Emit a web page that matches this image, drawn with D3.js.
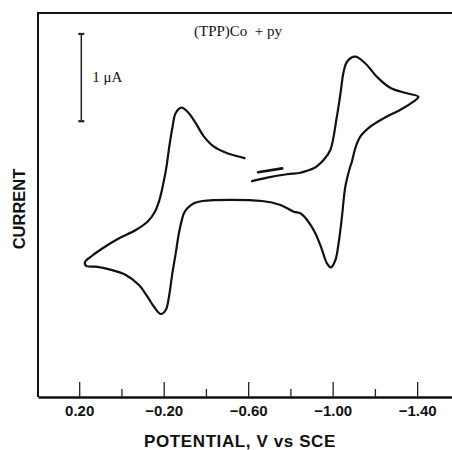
<!DOCTYPE html>
<html>
<head>
<meta charset="utf-8">
<script src="https://cdn.jsdelivr.net/npm/d3@7"></script>
<style>
  body { margin: 0; background: #fff; }
  svg { display: block; }
</style>
</head>
<body>
<div id="chart"></div>
<script>
// cyclic voltammogram, potential in V vs SCE, current in uA (cathodic up)
let scanE = [
  -0.614, -0.690, -0.784, -0.847, -0.879, -0.910, -0.932, -0.957, -0.989,
  -1.019, -1.036, -1.052, -1.068, -1.107, -1.154, -1.209, -1.272, -1.351, -1.406,
  -1.382, -1.319, -1.241, -1.178, -1.131, -1.107, -1.091, -1.083, -1.060, -1.044,
  -1.028, -1.013, -0.992, -0.973, -0.950, -0.918, -0.879, -0.847, -0.816, -0.753,
  -0.666, -0.383, -0.343, -0.312, -0.296, -0.288, -0.272, -0.257, -0.241, -0.225,
  -0.210, -0.186, -0.154, -0.123, -0.083, -0.021, 0.058, 0.121, 0.168, 0.172,
  0.145, 0.089, 0.011, -0.068, -0.123, -0.158, -0.180, -0.196, -0.212, -0.226,
  -0.241, -0.257, -0.285, -0.318, -0.351, -0.389, -0.438, -0.501, -0.587
];
let scanI = [
  -0.029, 0.013, 0.052, 0.070, 0.093, 0.120, 0.158, 0.216, 0.330,
  0.700, 0.960, 1.227, 1.342, 1.399, 1.324, 1.170, 1.044, 0.980, 0.941,
  0.884, 0.789, 0.693, 0.597, 0.483, 0.350, 0.196, 0.139, -0.090, -0.434,
  -0.739, -0.930, -1.014, -0.968, -0.816, -0.624, -0.472, -0.395, -0.377, -0.300,
  -0.254, -0.254, -0.281, -0.338, -0.395, -0.453, -0.624, -0.854, -1.083, -1.351,
  -1.503, -1.549, -1.466, -1.351, -1.217, -1.102, -1.037, -1.007, -0.996, -0.950,
  -0.893, -0.796, -0.682, -0.587, -0.492, -0.380, -0.240, -0.080, 0.120, 0.360,
  0.582, 0.754, 0.815, 0.754, 0.640, 0.490, 0.368, 0.292, 0.235
];
// short initial trace near -0.7 V
let startE = [-0.647, -0.761];
let startI = [0.075, 0.120];

let majorTicks = [0.2, -0.2, -0.6, -1.0, -1.4];
let minorTicks = [0.0, -0.4, -0.8, -1.2];
let scaleBar = { e: 0.19, top: 1.66, size: 1 }; // 1 uA bar

let width = 452;
let height = 450;
let margin = { top: 13, left: 38, bottom: 53 };

let x = d3.scaleLinear().domain([0.395, -1.565]).range([margin.left, width]);
let y = d3.scaleLinear().domain([-2.5, 1.9]).range([height - margin.bottom, margin.top]);

let svg = d3
  .select("#chart")
  .append("svg")
  .attr("width", width)
  .attr("height", height);

// frame: top and left lines
svg.append("line")
  .attr("x1", x.range()[0]).attr("x2", width)
  .attr("y1", y(1.9)).attr("y2", y(1.9))
  .attr("stroke", "#111").attr("stroke-width", 2.2);
svg.append("line")
  .attr("x1", x.range()[0]).attr("x2", x.range()[0])
  .attr("y1", y(1.9) - 1).attr("y2", y(-2.5))
  .attr("stroke", "#111").attr("stroke-width", 2);

// x axis with upward ticks
let fmt = d3.format(".2f");
let xAxis = svg.append("g")
  .attr("transform", "translate(0," + y(-2.5) + ")")
  .call(d3.axisBottom(x).tickValues(majorTicks).tickSize(-15).tickSizeOuter(0).tickPadding(8).tickFormat(fmt));
xAxis.select(".domain").attr("stroke", "#111").attr("stroke-width", 2.4);
xAxis.selectAll(".tick line").attr("stroke", "#222").attr("stroke-width", 1.3);
xAxis.selectAll("text")
  .attr("fill", "#111")
  .style("font-family", "'Liberation Sans', Arial, sans-serif")
  .style("font-weight", "bold")
  .style("font-size", "15px");

svg.append("g")
  .attr("transform", "translate(0," + y(-2.5) + ")")
  .call(d3.axisBottom(x).tickValues(minorTicks).tickSize(-8).tickSizeOuter(0).tickFormat(""))
  .call(g => g.select(".domain").remove())
  .selectAll(".tick line").attr("stroke", "#222").attr("stroke-width", 1.3);

// axis titles
svg.append("text")
  .attr("x", 240).attr("y", 447)
  .attr("text-anchor", "middle")
  .style("font-family", "'Liberation Sans', Arial, sans-serif")
  .style("font-weight", "bold")
  .style("font-size", "17px")
  .style("letter-spacing", "0.6px")
  .attr("fill", "#111")
  .text("POTENTIAL, V vs SCE");

svg.append("text")
  .attr("transform", "translate(25,209) rotate(-90)")
  .attr("text-anchor", "middle")
  .style("font-family", "'Liberation Sans', Arial, sans-serif")
  .style("font-weight", "bold")
  .style("font-size", "16.5px")
  .attr("fill", "#111")
  .text("CURRENT");

// title
svg.append("text")
  .attr("x", 194).attr("y", 36)
  .style("font-family", "'Liberation Serif', 'Times New Roman', serif")
  .style("font-size", "15px")
  .attr("fill", "#111")
  .text("(TPP)Co\u00a0\u00a0+\u00a0py");

// current scale bar
let bx = x(scaleBar.e);
let by1 = y(scaleBar.top);
let by2 = y(scaleBar.top - scaleBar.size);
svg.append("line")
  .attr("x1", bx).attr("x2", bx).attr("y1", by1).attr("y2", by2)
  .attr("stroke", "#222").attr("stroke-width", 1.5);
[by1, by2].forEach(function(v) {
  svg.append("line")
    .attr("x1", bx - 3).attr("x2", bx + 3).attr("y1", v).attr("y2", v)
    .attr("stroke", "#222").attr("stroke-width", 2.2);
});
svg.append("text")
  .attr("x", bx + 11).attr("y", (by1 + by2) / 2 + 4)
  .style("font-family", "'Liberation Serif', 'Times New Roman', serif")
  .style("font-size", "15px")
  .attr("fill", "#111")
  .text("1 \u03bcA");

// voltammogram traces
let line = d3.line()
  .x(d => x(d[0]))
  .y(d => y(d[1]))
  .curve(d3.curveCatmullRom.alpha(0.5));

let scan = scanE.map((e, i) => [e, scanI[i]]);
let start = startE.map((e, i) => [e, startI[i]]);

svg.append("path")
  .datum(scan)
  .attr("d", line)
  .attr("fill", "none")
  .attr("stroke", "#111")
  .attr("stroke-width", 2.2)
  .attr("stroke-linejoin", "round");

svg.append("path")
  .datum(start)
  .attr("d", line)
  .attr("fill", "none")
  .attr("stroke", "#111")
  .attr("stroke-width", 2.6)
  .attr("stroke-linecap", "round");
</script>
</body>
</html>
